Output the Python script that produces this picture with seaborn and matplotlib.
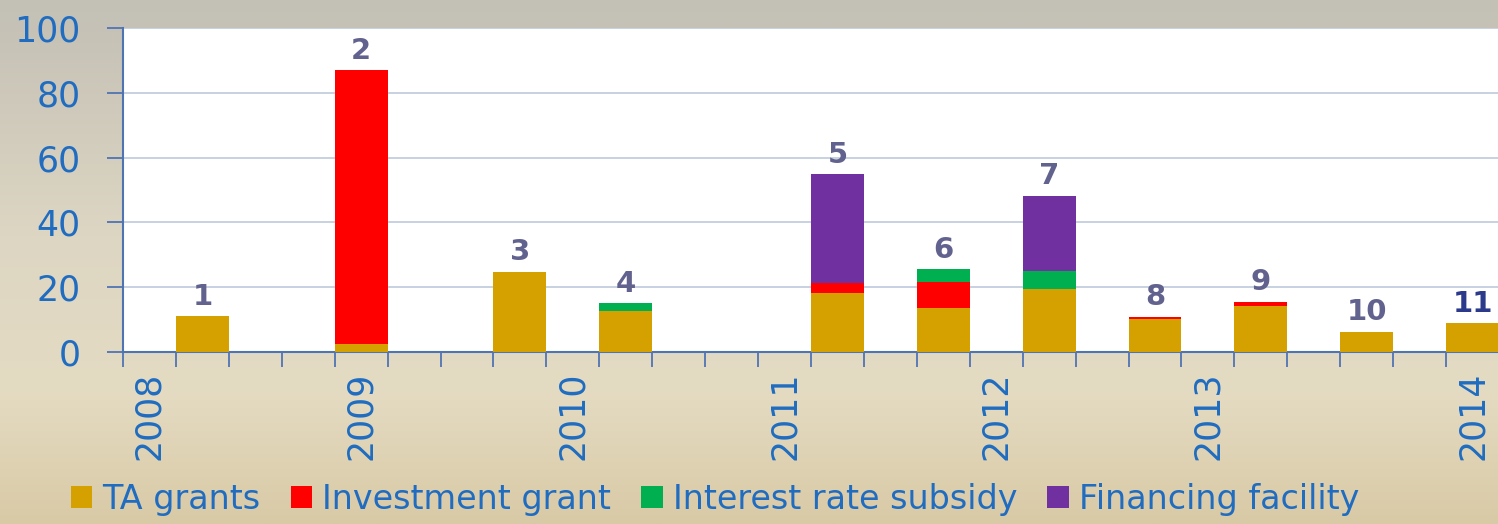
import numpy as np
import pandas as pd
import matplotlib
matplotlib.use("Agg")
import matplotlib.pyplot as plt
from matplotlib.colors import LinearSegmentedColormap
from matplotlib.patches import Patch
import seaborn as sns

# data (one slot per period, 26 slots on the axis)
n_slots = 26
bar_slot = [1, 4, 7, 9, 13, 15, 17, 19, 21, 23, 25]
bar_label = ["1", "2", "3", "4", "5", "6", "7", "8", "9", "10", "11"]
ta_grants = [11.0, 2.5, 24.8, 12.7, 18.3, 13.5, 19.4, 10.2, 14.3, 6.3, 8.8]
investment_grant = [0.0, 84.5, 0.0, 0.0, 2.9, 8.0, 0.0, 0.7, 1.2, 0.0, 0.0]
interest_subsidy = [0.0, 0.0, 0.0, 2.3, 0.0, 4.1, 5.6, 0.0, 0.0, 0.0, 0.0]
financing_facility = [0.0, 0.0, 0.0, 0.0, 33.7, 0.0, 23.3, 0.0, 0.0, 0.0, 0.0]
year_labels = ["2008", "2009", "2010", "2011", "2012", "2013", "2014"]
year_slot = [0, 4, 8, 12, 16, 20, 25]

series_names = ["TA grants", "Investment grant", "Interest rate subsidy", "Financing facility"]
series_colors = ["#d4a100", "#ff0000", "#00b050", "#7030a0"]

axis_blue = "#4f74b3"
text_blue = "#1f6cc0"
label_purple = "#62628f"

df = pd.DataFrame({
    "slot": [str(s) for s in bar_slot],
    "ta": ta_grants,
    "inv": investment_grant,
    "irs": interest_subsidy,
    "ff": financing_facility,
})
# cumulative heights for the stacked look
df["c1"] = df["ta"]
df["c2"] = df["c1"] + df["inv"]
df["c3"] = df["c2"] + df["irs"]
df["c4"] = df["c3"] + df["ff"]
order = [str(i) for i in range(n_slots)]

sns.set_theme(style="white")
plt.rcParams["font.family"] = ["DejaVu Sans"]

fig = plt.figure(figsize=(14.98, 5.24), dpi=100)

# background gradient behind everything
bg = fig.add_axes([0, 0, 1, 1], zorder=-10)
bg_cmap = LinearSegmentedColormap.from_list(
    "bg", [(0.0, "#c3c1b6"), (0.06, "#c6c2b6"), (0.45, "#ddd6c3"),
           (0.75, "#e4dbc2"), (1.0, "#d9caa6")])
bg.imshow(np.linspace(0, 1, 256).reshape(-1, 1), aspect="auto", cmap=bg_cmap,
          extent=[0, 1, 0, 1])
bg.set_axis_off()

ax = fig.add_axes([123 / 1498, 1 - 352 / 524, 1376 / 1498, 324 / 524])
ax.set_facecolor("white")

for col, color in zip(["c4", "c3", "c2", "c1"], series_colors[::-1]):
    sns.barplot(data=df, x="slot", y=col, order=order, color=color,
                width=1.0, gap=0, linewidth=0, saturation=1, ax=ax, zorder=3)

# numbers above bars
for i, row in df.iterrows():
    ax.annotate(bar_label[i], (float(row["slot"]), row["c4"]),
                xytext=(0, 4), textcoords="offset points", ha="center", va="bottom",
                fontsize=21, fontweight="bold",
                color="#2c3a8c" if bar_label[i] == "11" else label_purple)

ax.set_xlim(-0.5, n_slots - 0.5)
ax.set_ylim(0, 100)
ax.set_yticks(range(0, 101, 20))
ax.yaxis.grid(True, color="#c3cedd", linewidth=1.3, zorder=0)
ax.xaxis.grid(False)
ax.set_axisbelow(True)

ax.set_xticks(year_slot)
ax.set_xticklabels(year_labels, rotation=90)
ax.set_xticks(np.arange(-0.5, n_slots, 1), minor=True)
ax.tick_params(axis="x", which="major", bottom=True, length=0, pad=14, labelsize=25,
               labelcolor=text_blue)
ax.tick_params(axis="x", which="minor", bottom=True, length=11, width=1.3,
               color=axis_blue, direction="out")
ax.tick_params(axis="y", left=True, length=11.5, width=1.3, color=axis_blue, direction="out",
               pad=19, labelsize=25, labelcolor=text_blue)
ax.set_xlabel("")
ax.set_ylabel("")

for side in ["top", "right"]:
    ax.spines[side].set_visible(False)
for side in ["left", "bottom"]:
    ax.spines[side].set_color(axis_blue)
    ax.spines[side].set_linewidth(1.5)

handles = [Patch(facecolor=c, edgecolor="none") for c in series_colors]
fig.legend(handles, series_names, loc="center", bbox_to_anchor=(715 / 1498, 1 - 499 / 524),
           ncol=4, frameon=False, fontsize=24, labelcolor=text_blue,
           handlelength=0.65, handleheight=0.65, handletextpad=0.3, columnspacing=0.9,
           borderpad=0, borderaxespad=0)

fig.savefig("out.png", dpi=100)
